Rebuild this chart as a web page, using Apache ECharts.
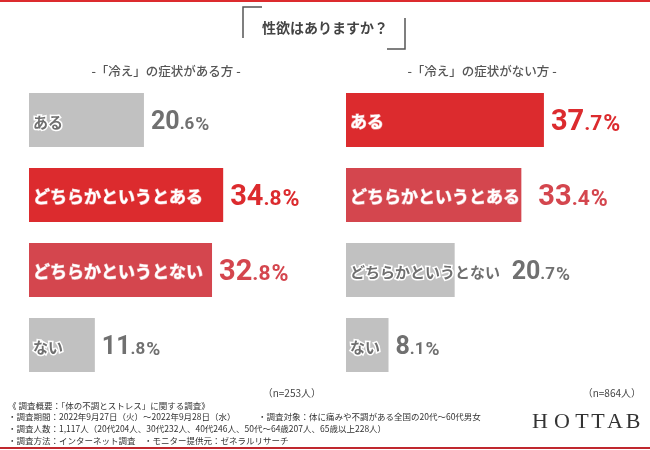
<!DOCTYPE html>
<html>
<head>
<meta charset="utf-8">
<script src="https://cdn.jsdelivr.net/npm/echarts@6/dist/echarts.min.js"></script>
<style>
html,body{margin:0;padding:0;background:#fff;}
#c{width:650px;height:450px;}
</style>
</head>
<body>
<div id="c"></div>
<script>
const chartTitle = '性欲はありますか？';
const categories = ['ある', 'どちらかというとある', 'どちらかというとない', 'ない'];
const leftTitle = '-「冷え」の症状がある方 -';
const rightTitle = '-「冷え」の症状がない方 -';
const leftValues = [20.6, 34.8, 32.8, 11.8];
const rightValues = [37.7, 33.4, 20.7, 8.1];
const leftN = '（n=253人）';
const rightN = '（n=864人）';
const footerLines = [
  '《 調査概要：「体の不調とストレス」に関する調査》',
  '・調査期間：2022年9月27日（火）～2022年9月28日（水）',
  '・調査人数：1,117人（20代204人、30代232人、40代246人、50代～64歳207人、65歳以上228人）',
  '・調査方法：インターネット調査　・モニター提供元：ゼネラルリサーチ'
];
const footerRight = '・調査対象：体に痛みや不調がある全国の20代～60代男女';
const brand = 'HOTTAB';

// style classes per bar: 'red', 'red2', 'gray'
const leftStyle = ['gray', 'red', 'red2', 'gray'];
const rightStyle = ['red', 'red2', 'gray', 'gray'];
const COLORS = { red: '#dc2b2e', red2: '#d4464e', gray: '#c1c1c1' };
const VALCOLORS = { red: '#dc2b2e', red2: '#d4464e', gray: '#707070' };
const NUMFONT = "'Roboto','Liberation Sans',sans-serif";
const JPFONT = "'Noto Sans CJK JP','Noto Sans',sans-serif";

function rich() {
  const r = {};
  ['red', 'red2', 'gray'].forEach(k => {
    const g = k === 'gray';
    const big = g ? 25 : 29;
    const small = g ? 17 : 21;
    const pct = g ? 19 : 23;
    const base = { fontFamily: NUMFONT, fontWeight: 'bold', color: VALCOLORS[k], verticalAlign: 'bottom', lineHeight: big };
    r[k + 'A'] = Object.assign({}, base, { fontSize: big });
    r[k + 'B'] = Object.assign({}, base, { fontSize: small, padding: [0, 0, 2, 0] });
    r[k + 'C'] = Object.assign({}, base, { fontSize: pct, padding: [0, 0, 1, 1] });
  });
  return r;
}
const RICH = rich();

function valueFmt(v, k) {
  const s = v.toFixed(1);
  const i = s.indexOf('.');
  return '{' + k + 'A|' + s.slice(0, i) + '}{' + k + 'B|' + s.slice(i) + '}{' + k + 'C|%}';
}

function barData(values, styles) {
  return values.map((v, i) => {
    const k = styles[i];
    const isGray = k === 'gray';
    return {
      value: v,
      itemStyle: { color: COLORS[k] },
      label: {
        show: true,
        position: 'insideLeft',
        distance: 4,
        offset: [0, 2],
        formatter: categories[i],
        fontFamily: JPFONT,
        fontWeight: 'bold',
        fontSize: isGray ? 15 : 17,
        color: isGray ? '#6f6f6f' : '#ffffff',
        textBorderColor: isGray ? '#ffffff' : 'rgba(255,255,255,0.6)',
        textBorderWidth: isGray ? 3 : 1
      }
    };
  });
}

function valueData(values, styles, extraOffsets) {
  return values.map((v, i) => {
    const k = styles[i];
    return {
      value: v,
      label: {
        show: true,
        position: 'right',
        distance: 7,
        offset: [extraOffsets[i] || 0, 3],
        formatter: valueFmt(v, k),
        rich: RICH
      }
    };
  });
}

const chart = echarts.init(document.getElementById('c'), null, { renderer: 'canvas' });

const footerGraphics = footerLines.map((t, i) => ({
  type: 'text', left: 8, top: [402, 413, 425, 437][i],
  style: { text: t, fontFamily: JPFONT, fontSize: 8.5, fill: '#333' }
}));

const brandXs = [540, 562, 582, 598, 615, 633];
const brandGraphics = brand.split('').map((ch, i) => ({
  type: 'text', x: brandXs[i], y: 422,
  style: { text: ch, fontFamily: "'Liberation Serif','DejaVu Serif',serif", fontSize: 22, fill: '#333', align: 'center', verticalAlign: 'middle' }
}));

chart.setOption({
  animation: false,
  grid: [
    { left: 29, top: 82.5, width: 279, height: 300 },
    { left: 346, top: 82.5, width: 262.5, height: 300 }
  ],
  xAxis: [
    { type: 'value', gridIndex: 0, min: 0, max: 50, show: false },
    { type: 'value', gridIndex: 1, min: 0, max: 50, show: false }
  ],
  yAxis: [
    { type: 'category', gridIndex: 0, data: categories, inverse: true, show: false },
    { type: 'category', gridIndex: 1, data: categories, inverse: true, show: false }
  ],
  series: [
    { type: 'bar', xAxisIndex: 0, yAxisIndex: 0, barWidth: 54, barGap: '-100%', data: barData(leftValues, leftStyle), z: 2 },
    { type: 'bar', xAxisIndex: 0, yAxisIndex: 0, barWidth: 54, barGap: '-100%', itemStyle: { color: 'rgba(0,0,0,0)' }, data: valueData(leftValues, leftStyle, []), z: 3, silent: true },
    { type: 'bar', xAxisIndex: 1, yAxisIndex: 1, barWidth: 54, barGap: '-100%', data: barData(rightValues, rightStyle), z: 2 },
    { type: 'bar', xAxisIndex: 1, yAxisIndex: 1, barWidth: 54, barGap: '-100%', itemStyle: { color: 'rgba(0,0,0,0)' }, data: valueData(rightValues, rightStyle, [0, 10, 50, 0]), z: 3, silent: true }
  ],
  graphic: [
    { type: 'rect', shape: { x: 0, y: 0, width: 650, height: 2 }, style: { fill: '#dc2b2e' } },
    { type: 'rect', shape: { x: 0, y: 447, width: 650, height: 2 }, style: { fill: '#c0282e' } },
    { type: 'polyline', shape: { points: [[262, 7], [243, 7], [243, 38]] }, style: { stroke: '#555', lineWidth: 1.5, fill: null } },
    { type: 'polyline', shape: { points: [[405, 18], [405, 49], [387, 49]] }, style: { stroke: '#555', lineWidth: 1.5, fill: null } },
    { type: 'text', x: 325, y: 28, style: { text: chartTitle, fontFamily: JPFONT, fontWeight: 'bold', fontSize: 14, fill: '#444', align: 'center', verticalAlign: 'middle' } },
    { type: 'text', x: 166, y: 71, style: { text: leftTitle, fontFamily: JPFONT, fontWeight: 500, fontSize: 12.5, fill: '#555', align: 'center', verticalAlign: 'middle' } },
    { type: 'text', x: 482, y: 71, style: { text: rightTitle, fontFamily: JPFONT, fontWeight: 500, fontSize: 12.5, fill: '#555', align: 'center', verticalAlign: 'middle' } },
    { type: 'text', x: 321, y: 393, style: { text: leftN, fontFamily: JPFONT, fontSize: 10, fill: '#444', align: 'right', verticalAlign: 'middle' } },
    { type: 'text', x: 641, y: 393, style: { text: rightN, fontFamily: JPFONT, fontSize: 10, fill: '#444', align: 'right', verticalAlign: 'middle' } },
    { type: 'text', left: 258, top: 413, style: { text: footerRight, fontFamily: JPFONT, fontSize: 8.5, fill: '#333' } }
  ].concat(footerGraphics, brandGraphics)
});
</script>
</body>
</html>
